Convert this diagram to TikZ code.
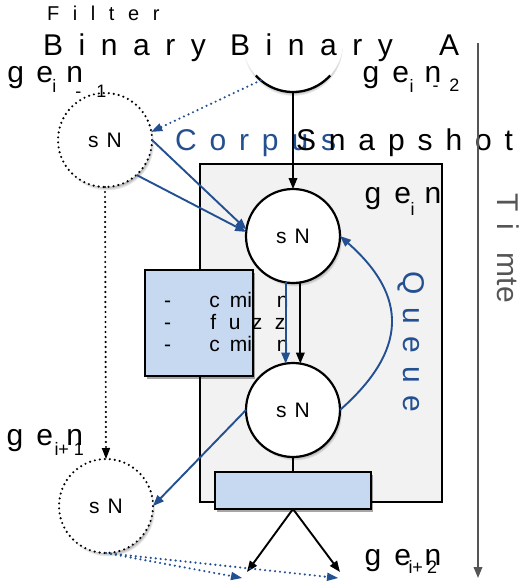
\documentclass[tikz,border=0pt]{standalone}
\usepackage{fontspec}
\setmainfont{Liberation Sans}
\newfontfamily\lsf[LetterSpace=43]{Liberation Sans}
\newfontfamily\lsb[LetterSpace=52]{Liberation Sans}
\newfontfamily\lsfs[LetterSpace=68]{Liberation Sans}
\usetikzlibrary{arrows.meta,shadows,fadings}
\definecolor{dblue}{RGB}{35,80,145}
\definecolor{lblue}{RGB}{198,217,241}
\definecolor{lgrey}{RGB}{242,242,242}
\definecolor{tgrey}{RGB}{85,85,85}
\newcommand\fsz[1]{\fontsize{#1}{#1}\selectfont}
\newcommand\putat[3]{\rlap{\hspace{#1}\raisebox{#2}{#3}}}
\newcommand\sbs[1]{{\fsz{18pt}#1}}
\begin{document}
\begin{tikzpicture}[x=1pt,y=1pt,
  tip/.style={-{Triangle[length=11pt,width=8.5pt]}},
  bl/.style={draw=dblue,line width=1.9pt},
  bk/.style={draw=black,line width=1.9pt},
  dotln/.style={line width=2.4pt,dash pattern=on 0pt off 5pt,line cap=round},
  dottip/.style={-{Triangle[length=11pt,width=8.5pt,line width=0pt,fill=#1]}},
  shad/.style={drop shadow={shadow xshift=2pt,shadow yshift=-2.5pt,opacity=0.35,fill=black}},
  cshad/.style={circular drop shadow={shadow scale=1.0,shadow xshift=2pt,shadow yshift=-3.5pt}},
  solidnode/.style={circle,draw=black,line width=2.2pt,fill=white,minimum size=94pt,inner sep=0pt,outer sep=0pt,cshad,font=\fsz{21pt}},
  dotnode/.style={circle,draw=black,line width=2.4pt,dash pattern=on 0pt off 5pt,line cap=round,fill=white,minimum size=94pt,inner sep=0pt,outer sep=0pt,cshad,font=\fsz{21pt}},
  txt/.style={anchor=base west,inner sep=0pt,outer sep=0pt},
  gen/.style={txt,font=\fsz{30pt}}
]
\useasboundingbox (0,0) rectangle (520,-582);
\fill[white] (0,0) rectangle (520,-582);

% snapshot frame
\node[draw=black,line width=1.7pt,fill=lgrey,minimum width=242pt,minimum height=338pt,anchor=north west,inner sep=0pt,outer sep=0pt] (snap) at (200,-164) {};

% boxes
\node[draw=black,line width=2pt,fill=lblue,minimum width=108pt,minimum height=106pt,anchor=north west,inner sep=0pt,outer sep=0pt,shad] (fbox) at (145,-270) {};
\node[draw=black,line width=2pt,fill=lblue,minimum width=156pt,minimum height=37pt,anchor=north west,inner sep=0pt,outer sep=0pt,shad] (wbox) at (215,-472) {};

% top circle
\node[circle,fill=white,minimum size=100pt,inner sep=0pt,outer sep=0pt,circular drop shadow={shadow scale=1.0,shadow xshift=0pt,shadow yshift=-4pt}] (top) at (293,-42) {};
\draw[line width=2.3pt] (top.222) arc[start angle=222,end angle=318,radius=50pt];

% circles
\node[dotnode] (c1) at (105,-140) {s\hspace{8pt}N};
\node[solidnode] (m1) at (293,-236) {s\hspace{8pt}N};
\node[solidnode] (m2) at (293,-410) {s\hspace{8pt}N};
\node[dotnode] (c2) at (106,-506) {s\hspace{8pt}N};

% texts
\node[txt,font=\lsfs\fsz{20pt}] (filt) at (47,-20) {Filter};
\node[txt,font=\lsb\fsz{30pt}] (bin1) at (43,-55) {Binary};
\node[txt,font=\lsb\fsz{30pt}] (bin2) at (230,-55) {Binary};
\node[txt,font=\lsb\fsz{30pt}] (binA) at (439,-55) {A};
\node[txt,font=\lsf\fsz{30pt},text=dblue] (corp) at (175,-150) {Corpus};
\node[txt,font=\lsf\fsz{30pt}] (snapt) at (296,-150) {Snapshot};

\node[gen] (g1) at (7,-82) {\putat{0pt}{0pt}{g}\putat{29pt}{0pt}{e}\putat{45pt}{-10pt}{\sbs{i}}\putat{59pt}{0pt}{n}\putat{68pt}{-15pt}{\sbs{-}}\putat{89pt}{-15pt}{\sbs{1}}};
\node[gen] (g2) at (362,-82) {\putat{0pt}{0pt}{g}\putat{30pt}{0pt}{e}\putat{47pt}{-10pt}{\sbs{i}}\putat{62pt}{0pt}{n}\putat{70pt}{-9pt}{\sbs{-}}\putat{87pt}{-9pt}{\sbs{2}}};
\node[gen] (g3) at (364,-203) {\putat{0pt}{0pt}{g}\putat{30pt}{0pt}{e}\putat{46pt}{-12pt}{\sbs{i}}\putat{60pt}{0pt}{n}};
\node[gen] (g4) at (6,-445) {\putat{0pt}{0pt}{g}\putat{30pt}{0pt}{e}\putat{48pt}{-10pt}{\sbs{i+\hspace{5pt}1}}\putat{60pt}{0pt}{n}};
\node[gen] (g5) at (364,-565) {\putat{0pt}{0pt}{g}\putat{30pt}{0pt}{e}\putat{44pt}{-8pt}{\sbs{i+\hspace{4pt}2}}\putat{60pt}{0pt}{n}};

\node[txt,font=\fsz{21pt}] (ftxt) at (163.5,-307) {\putat{0pt}{0pt}{-}\putat{45.5pt}{0pt}{c}\putat{66pt}{0pt}{mi}\putat{113pt}{0pt}{n}\putat{0pt}{-22pt}{-}\putat{46.5pt}{-22pt}{f}\putat{65pt}{-22pt}{u}\putat{88pt}{-22pt}{z}\putat{111pt}{-22pt}{z}\putat{0pt}{-44pt}{-}\putat{45.5pt}{-44pt}{c}\putat{66pt}{-44pt}{mi}\putat{113pt}{-44pt}{n}};

\node[txt,font=\lsf\fsz{30pt},text=dblue,rotate=-90] (queue) at (403,-271) {Queue};
\node[txt,font=\fsz{30pt},text=tgrey,rotate=-90] (time) at (497,-193) {T\hspace{11.7pt}i\hspace{23pt}mte};

% time axis
\coordinate (t1) at (478,-43);
\coordinate (t2) at (478,-578);
\draw[draw=tgrey,line width=1.8pt,-{Triangle[length=11pt,width=8.5pt]}] (t1) -- (t2);

% connectors
\coordinate (k1) at (247,-572);
\coordinate (k2) at (340,-572);
\coordinate (d1) at (242,-578);
\coordinate (d2) at (338,-578);

\draw[bk,tip] (top.south) -- (m1.north);
\draw[draw=dblue,dotln,dottip=dblue] (top.230) -- (c1.10);
\draw[bl,tip] (c1.0) -- (m1.172);
\draw[bl,tip] (c1.-48) -- (m1.175);
\draw[bl,tip] (m1.261) -- (m2.99);
\draw[bk,tip] (m1.279) -- (m2.81);
\draw[bl,tip] (m2.east) .. controls +(68,60) and +(68,-60) .. (m1.east);
\draw[bl,tip] (m2.180) -- (c2.east);
\draw[draw=black,dotln,dottip=black] (c1.south) -- (c2.north);
\draw[bk] (m2.south) -- (wbox.north);
\draw[bk,tip] (wbox.south) -- (k1);
\draw[bk,tip] (wbox.south) -- (k2);
\draw[draw=dblue,dotln,dottip=dblue] (c2.south) -- (d1);
\draw[draw=dblue,dotln,dottip=dblue] (c2.south) -- (d2);
\end{tikzpicture}
\end{document}
